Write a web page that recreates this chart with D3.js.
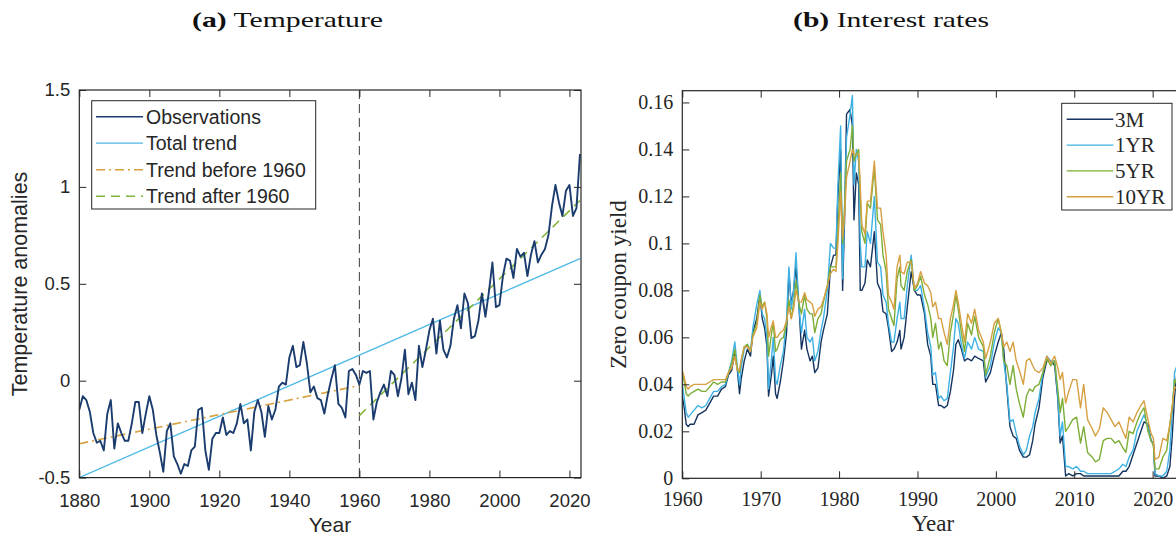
<!DOCTYPE html>
<html>
<head>
<meta charset="utf-8">
<script src="https://cdn.jsdelivr.net/npm/d3@7"></script>
<style>
  body { margin: 0; background: #fff; }
  svg { display: block; }
</style>
</head>
<body>
<svg id="chart" width="1176" height="537"></svg>
<script>
// ---- panel (a): temperature anomalies, one value per year 1880..2023
const tempYears = d3.range(1880, 2024);
const tempAnom = [
  -0.15, -0.08, -0.10, -0.16, -0.27, -0.32, -0.31, -0.36, -0.17, -0.10, // 1880s
  -0.35, -0.22, -0.27, -0.31, -0.31, -0.22, -0.11, -0.11, -0.27, -0.17, // 1890s
  -0.08, -0.15, -0.28, -0.37, -0.47, -0.26, -0.22, -0.39, -0.43, -0.48, // 1900s
  -0.43, -0.44, -0.36, -0.34, -0.15, -0.14, -0.36, -0.46, -0.30, -0.27, // 1910s
  -0.27, -0.19, -0.28, -0.26, -0.27, -0.22, -0.12, -0.22, -0.20, -0.36, // 1920s
  -0.16, -0.10, -0.16, -0.29, -0.13, -0.20, -0.15, -0.03, -0.01, -0.02, // 1930s
   0.12,  0.18,  0.07,  0.08,  0.20,  0.09, -0.06, -0.03, -0.09, -0.10, // 1940s
  -0.17, -0.07,  0.01,  0.08, -0.12, -0.14, -0.19,  0.05,  0.06,  0.03, // 1950s
  -0.02,  0.05,  0.04,  0.05, -0.20, -0.11, -0.06, -0.02, -0.08,  0.05, // 1960s
   0.03, -0.08,  0.01,  0.16, -0.07, -0.01, -0.10,  0.18,  0.07,  0.16, // 1970s
   0.26,  0.32,  0.14,  0.31,  0.16,  0.12,  0.18,  0.32,  0.39,  0.27, // 1980s
   0.45,  0.40,  0.22,  0.23,  0.31,  0.45,  0.33,  0.46,  0.61,  0.38, // 1990s
   0.39,  0.54,  0.63,  0.62,  0.53,  0.68,  0.64,  0.66,  0.54,  0.65, // 2000s
   0.72,  0.61,  0.65,  0.68,  0.75,  0.90,  1.01,  0.92,  0.85,  0.98, // 2010s
   1.01,  0.85,  0.89,  1.17                                            // 2020s
];
// fitted trend lines (end points)
const totalTrendYears = [1880, 2023];
const totalTrendVals = [-0.50, 0.63];
const beforeTrendYears = [1880, 1960];
const beforeTrendVals = [-0.325, -0.025];
const afterTrendYears = [1960, 2023];
const afterTrendVals = [-0.18, 0.93];
const splitYear = 1960;

const tempXTicks = [1880, 1900, 1920, 1940, 1960, 1980, 2000, 2020];
const tempYTicks = [-0.5, 0, 0.5, 1, 1.5];
const tempLegend = ["Observations", "Total trend", "Trend before 1960", "Trend after 1960"];

// ---- panel (b): zero coupon yields
const rateDates = [
  1960.0, 1960.25, 1960.5, 1960.75, 1961.0, 1961.5, 1962.0, 1962.5, 1963.0, 1963.5,
  1964.0, 1964.5, 1965.0, 1965.5, 1965.9, 1966.3, 1966.7, 1967.0, 1967.3, 1967.5,
  1967.9, 1968.3, 1968.7, 1969.0, 1969.5, 1969.9, 1970.2, 1970.5, 1970.8, 1971.0,
  1971.4, 1971.6, 1971.9, 1972.1, 1972.5, 1972.9, 1973.3, 1973.6, 1973.9, 1974.2,
  1974.5, 1974.9, 1975.2, 1975.6, 1975.9, 1976.3, 1976.6, 1976.9, 1977.3, 1977.7,
  1978.0, 1978.5, 1978.9, 1979.3, 1979.6, 1979.85, 1980.2, 1980.45, 1980.7, 1980.95,
  1981.4, 1981.7, 1981.9, 1982.2, 1982.5, 1982.7, 1982.9, 1983.3, 1983.6, 1984.0,
  1984.5, 1984.9, 1985.3, 1985.6, 1986.0, 1986.3, 1986.7, 1987.0, 1987.4, 1987.75,
  1987.9, 1988.3, 1988.7, 1989.2, 1989.6, 1990.0, 1990.4, 1990.9, 1991.3, 1991.7,
  1991.95, 1992.3, 1992.7, 1993.0, 1993.4, 1993.8, 1994.2, 1994.6, 1994.9, 1995.2,
  1995.6, 1996.0, 1996.4, 1996.9, 1997.3, 1997.8, 1998.4, 1998.7, 1999.3, 1999.8,
  2000.3, 2000.7, 2001.0, 2001.4, 2001.8, 2002.2, 2002.6, 2003.0, 2003.5, 2003.9,
  2004.3, 2004.7, 2005.0, 2005.5, 2006.0, 2006.5, 2007.0, 2007.5, 2007.9, 2008.2,
  2008.5, 2008.9, 2009.3, 2009.8, 2010.3, 2010.8, 2011.2, 2011.7, 2012.3, 2012.7,
  2013.2, 2013.7, 2014.2, 2014.7, 2015.2, 2015.7, 2016.2, 2016.6, 2017.0, 2017.5,
  2018.0, 2018.5, 2018.9, 2019.4, 2019.8, 2020.1, 2020.3, 2020.8, 2021.3, 2021.8,
  2022.2, 2022.5, 2022.8, 2023.1, 2023.5
];
const y3M = [
  .035, .030, .023, .022, .023, .023, .027, .028, .029, .032,
  .035, .035, .038, .039, .044, .046, .053, .047, .036, .042,
  .050, .055, .052, .062, .068, .078, .068, .064, .056, .035,
  .045, .052, .036, .034, .041, .050, .062, .088, .074, .080,
  .090, .072, .055, .063, .055, .050, .052, .045, .047, .058,
  .063, .070, .090, .095, .095, .120, .140, .080, .110, .155,
  .157, .150, .110, .130, .125, .080, .080, .083, .093, .090,
  .105, .083, .080, .071, .070, .064, .054, .055, .058, .063,
  .055, .060, .073, .088, .080, .078, .078, .070, .057, .052,
  .040, .040, .031, .031, .030, .031, .037, .046, .057, .059,
  .055, .050, .051, .050, .052, .051, .050, .041, .045, .052,
  .058, .062, .055, .038, .022, .018, .017, .012, .009, .009,
  .010, .016, .023, .030, .043, .050, .050, .048, .034, .015,
  .018, .001, .002, .001, .002, .002, .001, .001, .001, .001,
  .001, .001, .001, .001, .001, .001, .003, .003, .005, .010,
  .015, .020, .024, .023, .016, .015, .001, .001, .000, .001,
  .005, .018, .035, .045, .052
];
const y1YR = [
  .040, .034, .028, .026, .027, .029, .031, .030, .031, .034,
  .037, .037, .039, .040, .045, .050, .058, .048, .040, .047,
  .055, .057, .054, .064, .074, .080, .070, .068, .060, .038,
  .052, .060, .042, .040, .048, .054, .068, .090, .072, .080,
  .096, .072, .062, .072, .060, .058, .060, .050, .054, .063,
  .068, .080, .100, .098, .098, .125, .150, .085, .115, .145,
  .155, .163, .125, .140, .135, .100, .090, .090, .105, .100,
  .120, .092, .090, .078, .075, .066, .058, .058, .068, .075,
  .068, .068, .082, .095, .080, .080, .082, .072, .062, .056,
  .044, .045, .034, .035, .033, .034, .045, .056, .068, .066,
  .057, .051, .058, .055, .060, .055, .054, .043, .048, .058,
  .064, .062, .050, .040, .024, .025, .019, .014, .010, .012,
  .018, .022, .028, .034, .045, .052, .050, .050, .035, .018,
  .024, .005, .005, .004, .005, .003, .003, .002, .002, .002,
  .002, .002, .002, .002, .003, .004, .006, .005, .009, .012,
  .020, .024, .027, .022, .016, .015, .002, .001, .001, .003,
  .012, .028, .045, .048, .053
];
const y5YR = [
  .045, .041, .036, .035, .036, .037, .038, .037, .037, .039,
  .041, .040, .041, .041, .045, .049, .055, .047, .045, .050,
  .056, .057, .054, .061, .066, .078, .073, .075, .068, .052,
  .062, .066, .054, .055, .059, .060, .066, .076, .068, .074,
  .084, .074, .070, .078, .072, .070, .070, .062, .068, .070,
  .075, .082, .090, .090, .090, .105, .130, .100, .115, .135,
  .140, .150, .135, .138, .140, .120, .105, .100, .117, .115,
  .132, .110, .108, .095, .088, .072, .068, .065, .085, .090,
  .082, .080, .088, .093, .080, .082, .086, .078, .074, .068,
  .060, .066, .055, .058, .050, .048, .062, .070, .078, .072,
  .062, .054, .066, .061, .069, .060, .056, .044, .052, .062,
  .068, .062, .050, .048, .040, .048, .038, .032, .026, .035,
  .038, .037, .039, .040, .045, .051, .048, .050, .038, .028,
  .034, .020, .022, .025, .026, .015, .022, .011, .009, .007,
  .008, .016, .017, .017, .015, .016, .013, .011, .020, .019,
  .024, .028, .030, .020, .016, .014, .004, .004, .009, .012,
  .023, .030, .042, .040, .042
];
const y10YR = [
  .046, .043, .039, .038, .039, .040, .040, .040, .040, .041,
  .042, .042, .042, .042, .045, .047, .052, .046, .046, .050,
  .056, .056, .054, .060, .064, .075, .072, .075, .070, .060,
  .065, .067, .060, .060, .062, .063, .067, .073, .068, .072,
  .080, .075, .075, .079, .076, .075, .074, .069, .072, .073,
  .076, .082, .087, .089, .088, .100, .122, .102, .112, .128,
  .135, .140, .138, .138, .138, .125, .108, .104, .118, .118,
  .135, .115, .115, .105, .095, .078, .075, .072, .090, .095,
  .088, .087, .092, .092, .081, .083, .088, .083, .082, .079,
  .073, .075, .068, .068, .062, .057, .068, .074, .080, .075,
  .066, .058, .070, .066, .072, .063, .058, .051, .058, .066,
  .068, .062, .056, .058, .054, .058, .050, .046, .040, .050,
  .051, .048, .046, .045, .047, .052, .049, .052, .047, .042,
  .045, .032, .037, .042, .042, .030, .040, .025, .021, .018,
  .021, .030, .028, .025, .022, .024, .020, .017, .026, .024,
  .028, .031, .033, .025, .019, .017, .008, .009, .017, .016,
  .023, .031, .039, .038, .040
];
const rateNames = ["3M", "1YR", "5YR", "10YR"];
const rateSeries = [y3M, y1YR, y5YR, y10YR];
const rateColors = ["#14345f", "#3eb1e4", "#7dae36", "#d6a042"];
const rateXTicks = [1960, 1970, 1980, 1990, 2000, 2010, 2020];
const rateYTicks = [0, 0.02, 0.04, 0.06, 0.08, 0.1, 0.12, 0.14, 0.16];

const svg = d3.select("#chart");
const AX = "#262626";

// MATLAB-like box with inward ticks on all four sides
function drawBox(g, x, y, xt, yt, fmtY, font, fsize, padX, padY) {
  const [x0, x1] = x.range();
  const [y0, y1] = y.range(); // y0 bottom, y1 top
  g.append("g").attr("transform", `translate(0,${y0})`)
    .call(d3.axisBottom(x).tickValues(xt).tickSize(-7).tickPadding(padX).tickFormat(d3.format("d")));
  g.append("g").attr("transform", `translate(${x0},0)`)
    .call(d3.axisLeft(y).tickValues(yt).tickSize(-7).tickPadding(padY).tickFormat(fmtY));
  g.append("g").attr("transform", `translate(0,${y1})`)
    .call(d3.axisTop(x).tickValues(xt).tickSize(-7).tickFormat(""));
  g.append("g").attr("transform", `translate(${x1},0)`)
    .call(d3.axisRight(y).tickValues(yt).tickSize(-7).tickFormat(""));
  g.selectAll(".domain").remove();
  g.selectAll(".tick line").attr("stroke", AX).attr("stroke-width", 1);
  g.selectAll(".tick text").attr("fill", AX).style("font-family", font).style("font-size", fsize + "px");
  g.append("rect").attr("x", x0).attr("y", y1).attr("width", x1 - x0).attr("height", y0 - y1)
    .attr("fill", "none").attr("stroke", AX).attr("stroke-width", 1.2);
}

// ---------------- panel (a)
const gA = svg.append("g");
const xT = d3.scaleLinear().domain([1880, 2023.3]).range([79.3, 581]);
const yT = d3.scaleLinear().domain([-0.5, 1.5]).range([477.6, 90]);
const SANS = "'Liberation Sans', Arial, sans-serif";

gA.append("clipPath").attr("id", "clipA").append("rect")
  .attr("x", 79.3).attr("y", 90).attr("width", 581 - 79.3).attr("height", 477.6 - 90);
const plotA = gA.append("g").attr("clip-path", "url(#clipA)");

// split marker
plotA.append("line")
  .attr("x1", xT(splitYear)).attr("x2", xT(splitYear))
  .attr("y1", yT(1.5)).attr("y2", yT(-0.5))
  .attr("stroke", "#4d4d4d").attr("stroke-width", 1.1).attr("stroke-dasharray", "9,5");

const seg = (xs, ys) => xs.map((d, i) => [d, ys[i]]);
const lineA = d3.line().x(d => xT(d[0])).y(d => yT(d[1]));

const tempStyles = [
  { data: seg(tempYears, tempAnom), color: "#1b3c6e", w: 1.9, dash: null },
  { data: seg(totalTrendYears, totalTrendVals), color: "#4fb9e6", w: 1.3, dash: null },
  { data: seg(beforeTrendYears, beforeTrendVals), color: "#d7a13e", w: 1.6, dash: "9,4,2,4" },
  { data: seg(afterTrendYears, afterTrendVals), color: "#82b53c", w: 1.6, dash: "9,6" }
];
[1, 2, 3, 0].forEach(i => {
  const s = tempStyles[i];
  plotA.append("path").datum(s.data).attr("d", lineA)
    .attr("fill", "none").attr("stroke", s.color).attr("stroke-width", s.w)
    .attr("stroke-dasharray", s.dash).attr("stroke-linejoin", "round");
});

drawBox(gA, xT, yT, tempXTicks, tempYTicks, d => String(d), SANS, 18.5, 16, 9);

// legend (a)
const legA = gA.append("g");
legA.append("rect").attr("x", 91.7).attr("y", 100.7).attr("width", 224).attr("height", 108.3)
  .attr("fill", "#fff").attr("stroke", AX).attr("stroke-width", 1);
tempLegend.forEach((name, i) => {
  const yy = 116.7 + i * 26.5;
  const s = tempStyles[i];
  legA.append("line").attr("x1", 96).attr("x2", 143).attr("y1", yy).attr("y2", yy)
    .attr("stroke", s.color).attr("stroke-width", Math.min(s.w, 1.6)).attr("stroke-dasharray", s.dash);
  legA.append("text").attr("x", 146).attr("y", yy).attr("dy", "0.35em")
    .style("font-family", SANS).style("font-size", "19.5px").attr("fill", AX).text(name);
});

gA.append("text").attr("x", 330).attr("y", 532).attr("text-anchor", "middle")
  .style("font-family", SANS).style("font-size", "21px").attr("fill", AX).text("Year");
gA.append("text").attr("transform", "translate(27,284) rotate(-90)").attr("text-anchor", "middle")
  .style("font-family", SANS).style("font-size", "21.5px").attr("fill", AX).text("Temperature anomalies");

// ---------------- panel (b)
const gB = svg.append("g");
const xR = d3.scaleLinear().domain([1960, 2024]).range([682.3, 1184]);
const yR = d3.scaleLinear().domain([0, 0.165]).range([478.3, 90.7]);
const SERIF = "'Liberation Serif', 'Times New Roman', serif";

gB.append("clipPath").attr("id", "clipB").append("rect")
  .attr("x", 682.3).attr("y", 90.7).attr("width", 1184 - 682.3).attr("height", 478.3 - 90.7);
const plotB = gB.append("g").attr("clip-path", "url(#clipB)");
const lineB = d3.line().x(d => xR(d[0])).y(d => yR(d[1]));
rateSeries.forEach((vals, k) => {
  plotB.append("path").datum(seg(rateDates, vals)).attr("d", lineB)
    .attr("fill", "none").attr("stroke", rateColors[k]).attr("stroke-width", 1.4)
    .attr("stroke-linejoin", "round");
});

drawBox(gB, xR, yR, rateXTicks, rateYTicks, d => String(+d.toFixed(2)), SERIF, 20, 14, 9);

// legend (b)
const legB = gB.append("g");
legB.append("rect").attr("x", 1061.7).attr("y", 103.3).attr("width", 110.3).attr("height", 106.7)
  .attr("fill", "#fff").attr("stroke", AX).attr("stroke-width", 1);
rateNames.forEach((name, i) => {
  const yy = 119.3 + i * 25.8;
  legB.append("line").attr("x1", 1066.7).attr("x2", 1113.3).attr("y1", yy).attr("y2", yy)
    .attr("stroke", rateColors[i]).attr("stroke-width", 1.4);
  legB.append("text").attr("x", 1115).attr("y", yy).attr("dy", "0.35em")
    .style("font-family", SERIF).style("font-size", "21px").attr("fill", AX).text(name);
});

gB.append("text").attr("x", 933).attr("y", 531).attr("text-anchor", "middle")
  .style("font-family", SERIF).style("font-size", "23px").attr("fill", AX).text("Year");
gB.append("text").attr("transform", "translate(626,284.5) rotate(-90)").attr("text-anchor", "middle")
  .style("font-family", SERIF).style("font-size", "23px").attr("fill", AX).text("Zero coupon yield");

// ---------------- sub-figure captions
const captions = [
  { x: 287.5, label: "(a)", text: " Temperature", w: 191 },
  { x: 891, label: "(b)", text: " Interest rates", w: 196 }
];
captions.forEach(c => {
  const t = svg.append("text").attr("x", c.x - c.w / 2).attr("y", 27)
    .attr("textLength", c.w).attr("lengthAdjust", "spacingAndGlyphs")
    .style("font-family", SERIF).style("font-size", "21px").attr("fill", "#111");
  t.append("tspan").style("font-weight", "bold").text(c.label);
  t.append("tspan").text(c.text);
});
</script>
</body>
</html>
